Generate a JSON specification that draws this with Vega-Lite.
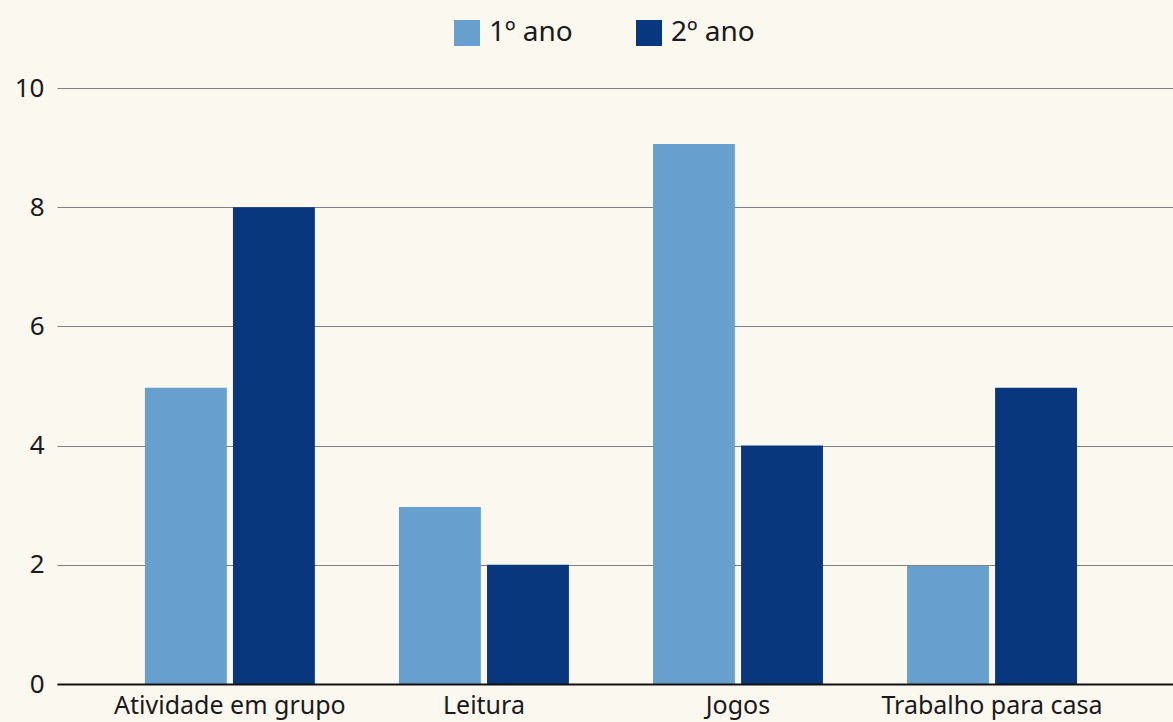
{
  "$schema": "https://vega.github.io/schema/vega-lite/v6.json",
  "width": 1116,
  "height": 596,
  "autosize": {"type": "none"},
  "padding": {"left": 57, "top": 88, "right": 0, "bottom": 38},
  "background": "#fbf8f0",
  "config": {
    "view": {"stroke": null},
    "font": "Noto Sans"
  },
  "data": {
    "values": [
      {"atividade": "Atividade em grupo", "ano": "1º ano", "valor": 4.97},
      {"atividade": "Atividade em grupo", "ano": "2º ano", "valor": 8},
      {"atividade": "Leitura", "ano": "1º ano", "valor": 2.97},
      {"atividade": "Leitura", "ano": "2º ano", "valor": 2},
      {"atividade": "Jogos", "ano": "1º ano", "valor": 9.06},
      {"atividade": "Jogos", "ano": "2º ano", "valor": 4},
      {"atividade": "Trabalho para casa", "ano": "1º ano", "valor": 1.98},
      {"atividade": "Trabalho para casa", "ano": "2º ano", "valor": 4.97}
    ]
  },
  "mark": {"type": "bar"},
  "encoding": {
    "x": {
      "field": "atividade",
      "type": "nominal",
      "sort": null,
      "scale": {"paddingInner": 0.331, "paddingOuter": 0.362, "align": 0.478},
      "axis": {
        "title": null,
        "labelAngle": 0,
        "labelFontSize": 25,
        "labelLimit": 0,
        "labelColor": "#1a1a1a",
        "labelPadding": 9,
        "ticks": false,
        "domainColor": "#111111",
        "domainWidth": 2,
        "zindex": 1
      }
    },
    "xOffset": {
      "field": "ano",
      "type": "nominal",
      "scale": {"paddingInner": 0.07, "paddingOuter": 0}
    },
    "y": {
      "field": "valor",
      "type": "quantitative",
      "scale": {"domain": [0, 10], "nice": false},
      "axis": {
        "title": null,
        "values": [0, 2, 4, 6, 8, 10],
        "domain": false,
        "ticks": false,
        "labelFontSize": 26,
        "labelColor": "#1a1a1a",
        "labelPadding": 13,
        "gridColor": "#808080",
        "gridWidth": 1.2
      }
    },
    "color": {
      "field": "ano",
      "type": "nominal",
      "scale": {"domain": ["1º ano", "2º ano"], "range": ["#679fcf", "#08377e"]},
      "legend": {
        "title": null,
        "orient": "none",
        "direction": "horizontal",
        "legendX": 396,
        "legendY": -69,
        "symbolType": "square",
        "symbolSize": 676,
        "symbolStrokeWidth": 0,
        "labelFontSize": 28,
        "labelColor": "#1a1a1a",
        "labelOffset": 8,
        "columnPadding": 62
      }
    }
  }
}
